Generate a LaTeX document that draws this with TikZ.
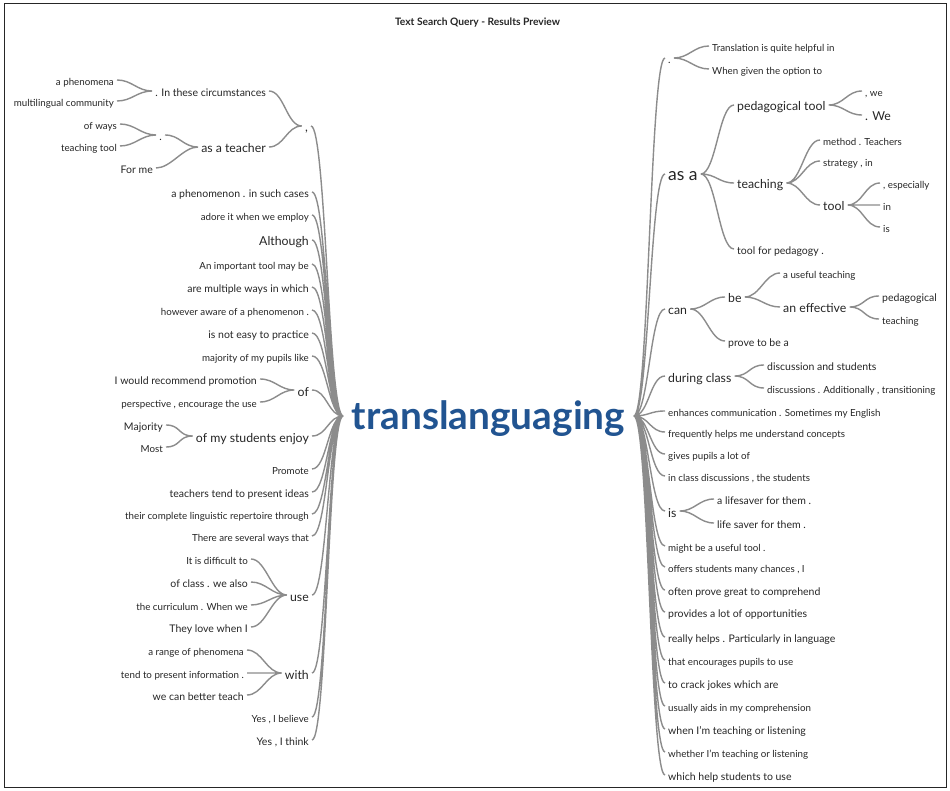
\documentclass[tikz,border=0pt]{standalone}
\usepackage{fontspec}
\setmainfont{Lato}

\definecolor{wordgray}{HTML}{262626}
\definecolor{linkgray}{HTML}{8C8C8C}
\definecolor{rootblue}{RGB}{33,84,145}

\begin{document}
\begin{tikzpicture}[x=1pt,y=-1pt,
  word/.style={text=wordgray,inner xsep=3pt,inner ysep=0pt,yshift=2pt},
  lw/.style={word,anchor=east},
  rw/.style={word,anchor=west},
  w1/.style={font=\fontsize{9.75}{11}\selectfont,text height=12pt,text depth=1pt},
  w2/.style={font=\fontsize{10.5}{12}\selectfont,text height=12pt,text depth=1pt},
  w3/.style={font=\fontsize{12.3}{14}\selectfont,text height=13pt,text depth=1pt},
  w4/.style={font=\fontsize{17.5}{20}\selectfont,text height=14.4pt,text depth=1pt},
  link/.style={draw=linkgray,line width=1.4pt},
  lnk/.style={to path={.. controls +(-15,0) and +(15,0) .. (\tikztotarget)}},
  rnk/.style={to path={.. controls +(15,0) and +(-15,0) .. (\tikztotarget)}}]
  \useasboundingbox (0,0) rectangle (950,791);
  \fill[white] (0,0) rectangle (950,791);
  \draw[black!85,line width=1pt] (4,4) rectangle (946,787);
  \node[font=\fontsize{10.25}{12}\selectfont\bfseries,text=black!85] (title)
    at (477.5,23) {Text Search Query - Results Preview};
  \node[font=\fontsize{38.8}{40}\selectfont\bfseries,text=rootblue,
    inner xsep=8.5pt,inner ysep=0pt,text height=28pt,text depth=2pt] (root)
    at (488.5,416) {translanguaging};

  % left branch
  \node[lw,w3] (lcomma) at (311,128) {,};
  \node[lw,w2] (lcirc) at (269,93) {. In these circumstances};
  \node[lw,w1] (lphen) at (117,82) {a phenomena};
  \node[lw,w1] (lmulti) at (117,103) {multilingual community};
  \node[lw,w3] (lteach) at (269,149) {as a teacher};
  \node[lw,w2] (ldot) at (165,137) {.};
  \node[lw,w1] (lways) at (120,126) {of ways};
  \node[lw,w1] (ltool) at (120,148) {teaching tool};
  \node[lw,w2] (lforme) at (156,170) {For me};
  \node[lw,w2] (lcases) at (312,194) {a phenomenon . in such cases};
  \node[lw,w1] (ladore) at (312,217) {adore it when we employ};
  \node[lw,w3] (lalth) at (312,242) {Although};
  \node[lw,w1] (limp) at (312,266) {An important tool may be};
  \node[lw,w2] (lmult) at (312,289) {are multiple ways in which};
  \node[lw,w1] (laware) at (312,312) {however aware of a phenomenon .};
  \node[lw,w2] (lnoteasy) at (312,335) {is not easy to practice};
  \node[lw,w1] (lmajor) at (312,358) {majority of my pupils like};
  \node[lw,w3] (lof) at (312,392) {of};
  \node[lw,w2] (lrecom) at (260,381) {I would recommend promotion};
  \node[lw,w1] (lpersp) at (260,404) {perspective , encourage the use};
  \node[lw,w3] (lenjoy) at (312,438) {of my students enjoy};
  \node[lw,w2] (lmajority) at (166,427) {Majority};
  \node[lw,w1] (lmost) at (166,449) {Most};
  \node[lw,w1] (lpromote) at (312,471) {Promote};
  \node[lw,w2] (lpresent) at (312,494) {teachers tend to present ideas};
  \node[lw,w1] (lrepert) at (312,516) {their complete linguistic repertoire through};
  \node[lw,w1] (lseveral) at (312,538) {There are several ways that};
  \node[lw,w3] (luse) at (312,597) {use};
  \node[lw,w1] (ldiff) at (251,561) {It is difficult to};
  \node[lw,w2] (lclass) at (251,584) {of class . we also};
  \node[lw,w1] (lcurr) at (251,607) {the curriculum . When we};
  \node[lw,w2] (llove) at (251,629) {They love when I};
  \node[lw,w3] (lwith) at (312,675) {with};
  \node[lw,w1] (lrange) at (247,652) {a range of phenomena};
  \node[lw,w1] (linfo) at (247,675) {tend to present information .};
  \node[lw,w2] (lbetter) at (247,697) {we can better teach};
  \node[lw,w1] (lbelieve) at (312,719) {Yes , I believe};
  \node[lw,w2] (lthink) at (312,742) {Yes , I think};

  \draw[link,lnk] (root.west) to (lcomma.east) (root.west) to (lcases.east)
    (root.west) to (ladore.east) (root.west) to (lalth.east)
    (root.west) to (limp.east) (root.west) to (lmult.east)
    (root.west) to (laware.east) (root.west) to (lnoteasy.east)
    (root.west) to (lmajor.east) (root.west) to (lof.east)
    (root.west) to (lenjoy.east) (root.west) to (lpromote.east)
    (root.west) to (lpresent.east) (root.west) to (lrepert.east)
    (root.west) to (lseveral.east) (root.west) to (luse.east)
    (root.west) to (lwith.east) (root.west) to (lbelieve.east)
    (root.west) to (lthink.east);
  \draw[link,lnk] (lcomma.west) to (lcirc.east) (lcomma.west) to (lteach.east);
  \draw[link,lnk] (lcirc.west) to (lphen.east) (lcirc.west) to (lmulti.east);
  \draw[link,lnk] (lteach.west) to (ldot.east) (lteach.west) to (lforme.east);
  \draw[link,lnk] (ldot.west) to (lways.east) (ldot.west) to (ltool.east);
  \draw[link,lnk] (lof.west) to (lrecom.east) (lof.west) to (lpersp.east);
  \draw[link,lnk] (lenjoy.west) to (lmajority.east) (lenjoy.west) to (lmost.east);
  \draw[link,lnk] (luse.west) to (ldiff.east) (luse.west) to (lclass.east)
    (luse.west) to (lcurr.east) (luse.west) to (llove.east);
  \draw[link,lnk] (lwith.west) to (lrange.east) (lwith.west) to (linfo.east)
    (lwith.west) to (lbetter.east);

  % right branch
  \node[rw,w2] (rdot) at (665,60) {.};
  \node[rw,w1] (rtrans) at (709,48) {Translation is quite helpful in};
  \node[rw,w1] (rgiven) at (709,71) {When given the option to};
  \node[rw,w4] (rasa) at (665,176) {as a};
  \node[rw,w3] (rpedtool) at (734,107) {pedagogical tool};
  \node[rw,w1] (rwe) at (862,93) {, we};
  \node[rw,w3] (rWe) at (862,117) {. We};
  \node[rw,w3] (rteaching) at (734,185) {teaching};
  \node[rw,w1] (rmethod) at (820,142) {method . Teachers};
  \node[rw,w1] (rstrat) at (820,163) {strategy , in};
  \node[rw,w3] (rtool) at (820,207) {tool};
  \node[rw,w1] (respec) at (880,185) {, especially};
  \node[rw,w1] (rin) at (880,207) {in};
  \node[rw,w1] (ris) at (880,229) {is};
  \node[rw,w2] (rpedagogy) at (734,251) {tool for pedagogy .};
  \node[rw,w3] (rcan) at (665,311) {can};
  \node[rw,w3] (rbe) at (725,299) {be};
  \node[rw,w1] (ruseful) at (780,275) {a useful teaching};
  \node[rw,w3] (reffect) at (780,309) {an effective};
  \node[rw,w2] (rpedag) at (879,298) {pedagogical};
  \node[rw,w1] (rteach) at (879,321) {teaching};
  \node[rw,w2] (rprove) at (725,343) {prove to be a};
  \node[rw,w3] (rduring) at (665,378) {during class};
  \node[rw,w2] (rdisc) at (764,367) {discussion and students};
  \node[rw,w1] (rdiscs) at (764,390) {discussions . Additionally , transitioning};
  \node[rw,w1] (renh) at (665,413) {enhances communication . Sometimes my English};
  \node[rw,w1] (rfreq) at (665,434) {frequently helps me understand concepts};
  \node[rw,w1] (rgives) at (665,456) {gives pupils a lot of};
  \node[rw,w1] (rclass) at (665,478) {in class discussions , the students};
  \node[rw,w3] (rlife) at (665,513) {is};
  \node[rw,w2] (rsaver) at (714,501) {a lifesaver for them .};
  \node[rw,w2] (rsaver2) at (714,525) {life saver for them .};
  \node[rw,w1] (rmight) at (665,548) {might be a useful tool .};
  \node[rw,w1] (roffers) at (665,569) {offers students many chances , I};
  \node[rw,w2] (roften) at (665,592) {often prove great to comprehend};
  \node[rw,w2] (rprov) at (665,614) {provides a lot of opportunities};
  \node[rw,w2] (rreally) at (665,639) {really helps . Particularly in language};
  \node[rw,w1] (rthat) at (665,662) {that encourages pupils to use};
  \node[rw,w2] (rcrack) at (665,685) {to crack jokes which are};
  \node[rw,w1] (rusually) at (665,708) {usually aids in my comprehension};
  \node[rw,w2] (rwhen) at (665,731) {when I'm teaching or listening};
  \node[rw,w1] (rwhether) at (665,754) {whether I'm teaching or listening};
  \node[rw,w2] (rwhich) at (665,777) {which help students to use};

  \draw[link,rnk] (root.east) to (rdot.west) (root.east) to (rasa.west)
    (root.east) to (rcan.west) (root.east) to (rduring.west)
    (root.east) to (renh.west) (root.east) to (rfreq.west)
    (root.east) to (rgives.west) (root.east) to (rclass.west)
    (root.east) to (rlife.west) (root.east) to (rmight.west)
    (root.east) to (roffers.west) (root.east) to (roften.west)
    (root.east) to (rprov.west) (root.east) to (rreally.west)
    (root.east) to (rthat.west) (root.east) to (rcrack.west)
    (root.east) to (rusually.west) (root.east) to (rwhen.west)
    (root.east) to (rwhether.west) (root.east) to (rwhich.west);
  \draw[link,rnk] (rdot.east) to (rtrans.west) (rdot.east) to (rgiven.west);
  \draw[link,rnk] (rasa.east) to (rpedtool.west) (rasa.east) to (rteaching.west)
    (rasa.east) to (rpedagogy.west);
  \draw[link,rnk] (rpedtool.east) to (rwe.west) (rpedtool.east) to (rWe.west);
  \draw[link,rnk] (rteaching.east) to (rmethod.west) (rteaching.east) to (rstrat.west)
    (rteaching.east) to (rtool.west);
  \draw[link,rnk] (rtool.east) to (respec.west) (rtool.east) to (rin.west)
    (rtool.east) to (ris.west);
  \draw[link,rnk] (rcan.east) to (rbe.west) (rcan.east) to (rprove.west);
  \draw[link,rnk] (rbe.east) to (ruseful.west) (rbe.east) to (reffect.west);
  \draw[link,rnk] (reffect.east) to (rpedag.west) (reffect.east) to (rteach.west);
  \draw[link,rnk] (rduring.east) to (rdisc.west) (rduring.east) to (rdiscs.west);
  \draw[link,rnk] (rlife.east) to (rsaver.west) (rlife.east) to (rsaver2.west);
\end{tikzpicture}
\end{document}
